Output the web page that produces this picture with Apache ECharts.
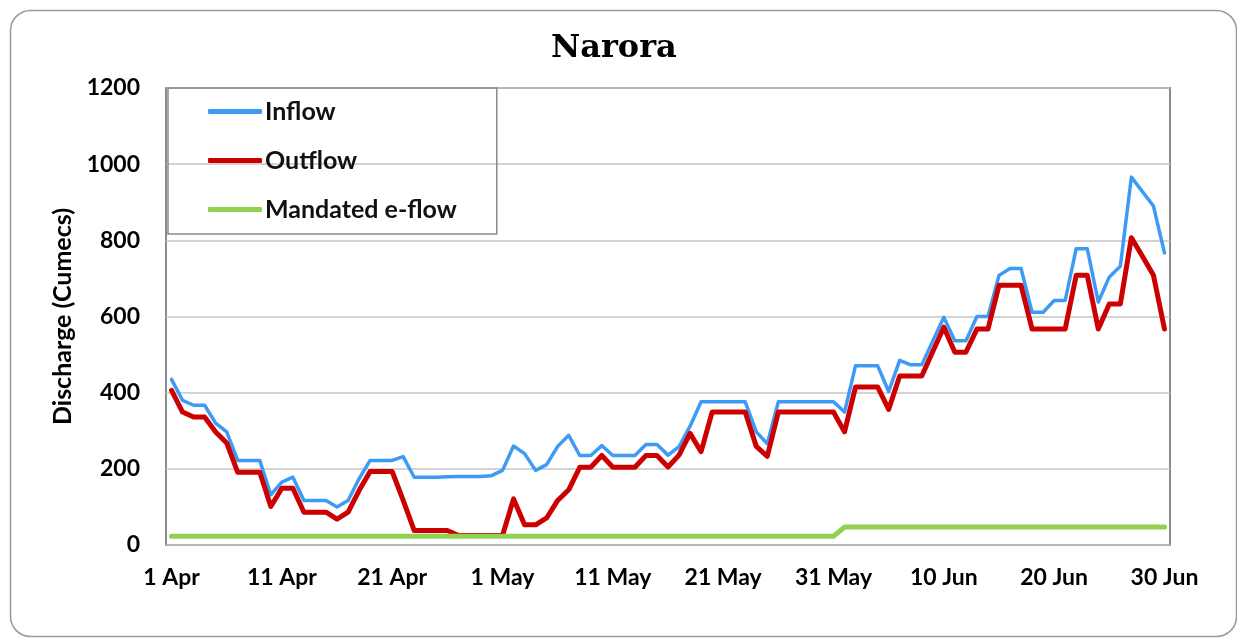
<!DOCTYPE html>
<html>
<head>
<meta charset="utf-8">
<script src="https://cdn.jsdelivr.net/npm/echarts@6/dist/echarts.min.js"></script>
<style>
  html, body { margin: 0; padding: 0; background: #fff; }
  #chart { width: 1237px; height: 639px; }
</style>
</head>
<body>
<div id="chart"></div>
<script>
// months of the season and their day counts
const months = [["Apr", 30], ["May", 31], ["Jun", 30]];

// daily discharge, 1 Apr .. 30 Jun (cumecs)
const inflow = [
    435, 380, 367, 367, 320, 297, 222, 222, 222, 132,
    165, 178, 117, 117, 117, 100, 117, 174, 222, 222,
    222, 232, 178, 178, 178, 179, 180, 180, 180, 182,
    196, 260, 240, 196, 211, 259, 288, 235, 235, 261,
    235, 235, 235, 264, 264, 236, 258, 312, 376, 376,
    376, 376, 376, 297, 266, 376, 376, 376, 376, 376,
    376, 349, 471, 471, 471, 403, 485, 473, 473, 536,
    598, 536, 536, 600, 600, 708, 726, 726, 611, 611,
    642, 642, 778, 778, 638, 704, 732, 966, 928, 890,
    767
];

const outflow = [
    406, 349, 336, 336, 297, 268, 191, 191, 191, 101,
    149, 149, 86, 86, 86, 68, 86, 143, 193, 193,
    193, 117, 38, 38, 38, 38, 25, 25, 25, 25,
    25, 121, 53, 53, 71, 117, 145, 204, 204, 235,
    204, 204, 204, 235, 235, 205, 236, 293, 245, 349,
    349, 349, 349, 259, 233, 349, 349, 349, 349, 349,
    349, 297, 415, 415, 415, 356, 444, 444, 444, 508,
    572, 506, 506, 567, 567, 682, 682, 682, 567, 567,
    567, 567, 708, 708, 567, 633, 633, 807, 758, 708,
    567
];

// mandated e-flow: lower value till 31 May, higher from 1 Jun
const eflowLow = 23;
const eflowHigh = 47;
const eflowLowDays = 61;

const days = [];
months.forEach(([m, n]) => {
    for (let d = 1; d <= n; d++) days.push(d + " " + m);
});

const eflow = days.map((_, i) => (i < eflowLowDays ? eflowLow : eflowHigh));

const boldFont = "Lato";

const chart = echarts.init(document.getElementById("chart"));

chart.setOption({
    animation: false,
    backgroundColor: "#fff",
    graphic: [{
        type: "rect",
        left: 8,
        top: 8,
        shape: { width: 1226, height: 626, r: 20 },
        style: { fill: "none", stroke: "#9a9a9a", lineWidth: 1.5 },
        silent: true
    }],
    title: {
        text: "Narora",
        left: 546,
        top: 28,
        textStyle: {
            fontFamily: "DejaVu Serif",
            fontWeight: "bold",
            fontSize: 32,
            color: "#000"
        }
    },
    legend: {
        orient: "vertical",
        left: 168,
        top: 88,
        padding: [11, 40, 12, 40],
        itemGap: 24,
        itemWidth: 54,
        itemHeight: 5,
        borderColor: "#8a8a8a",
        borderWidth: 1.5,
        icon: "roundRect",
        textStyle: {
            fontFamily: boldFont,
            fontWeight: "bold",
            fontSize: 25,
            color: "#111",
            padding: [0, 0, 0, -2]
        },
        data: ["Inflow", "Outflow", "Mandated e-flow"]
    },
    grid: {
        left: 166,
        right: 67,
        top: 88,
        bottom: 94,
        show: true,
        borderColor: "#8a8a8a",
        borderWidth: 2
    },
    xAxis: {
        type: "category",
        data: days,
        boundaryGap: true,
        axisLine: { show: false },
        axisTick: { show: false },
        axisLabel: {
            interval: 9,
            margin: 21,
            fontFamily: boldFont,
            fontWeight: "bold",
            fontSize: 23,
            color: "#000"
        },
        splitLine: { show: false }
    },
    yAxis: {
        type: "value",
        min: 0,
        max: 1200,
        interval: 200,
        name: "Discharge (Cumecs)",
        nameLocation: "middle",
        nameGap: 88,
        nameTextStyle: {
            fontFamily: boldFont,
            fontWeight: "bold",
            fontSize: 25,
            color: "#000"
        },
        axisLine: { show: false },
        axisTick: { show: false },
        axisLabel: {
            margin: 26,
            formatter: (v) => String(v),
            fontFamily: boldFont,
            fontWeight: "bold",
            fontSize: 23,
            color: "#000"
        },
        splitLine: { lineStyle: { color: "#c4c4c4", width: 1.5 } }
    },
    series: [
        {
            name: "Inflow",
            type: "line",
            data: inflow,
            symbol: "none",
            color: "#3d9bf5",
            lineStyle: { width: 3.5, cap: "round", join: "round" }
        },
        {
            name: "Outflow",
            type: "line",
            data: outflow,
            symbol: "none",
            color: "#cc0000",
            lineStyle: { width: 5, cap: "round", join: "round" }
        },
        {
            name: "Mandated e-flow",
            type: "line",
            data: eflow,
            symbol: "none",
            color: "#92d050",
            lineStyle: { width: 5, cap: "round", join: "round" }
        }
    ]
});
</script>
</body>
</html>
